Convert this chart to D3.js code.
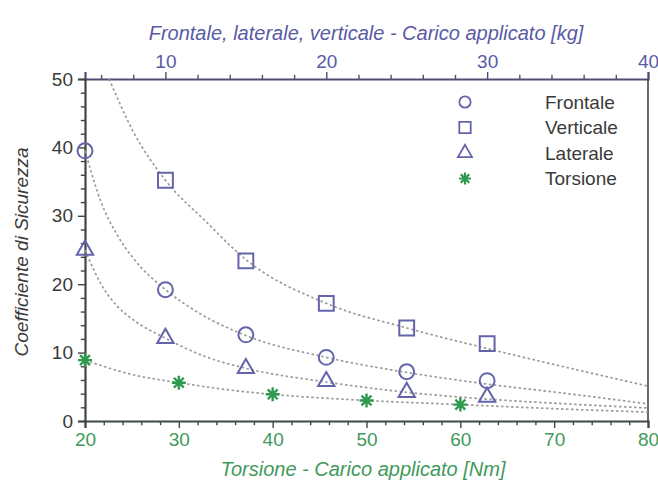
<!DOCTYPE html>
<html>
<head>
<meta charset="utf-8">
<script src="https://cdn.jsdelivr.net/npm/d3@7"></script>
<style>
  body { margin: 0; background: #fff; }
  text { font-family: "Liberation Sans", Arial, sans-serif; }
</style>
</head>
<body>
<div id="chart"></div>
<script>
// data
const kgLoads = [5, 10, 15, 20, 25, 30];
const frontale = [39.5, 19.2, 12.6, 9.3, 7.2, 5.9];
const laterale = [25.0, 12.1, 7.7, 5.8, 4.2, 3.5];
const verticaleLoads = [10, 15, 20, 25, 30];
const verticale = [35.2, 23.4, 17.2, 13.6, 11.3];
const nmLoads = [20, 30, 40, 50, 60];
const torsione = [8.9, 5.6, 3.9, 3.0, 2.4];

// dotted trend lines, also
const frontaleFitX = [5, 6, 7, 8, 10, 12, 15, 20, 25, 30, 35, 40];
const frontaleFitY = [39.5, 32, 27.2, 23.8, 19.2, 15.9, 12.5, 9.3, 7.1, 5.4, 4.0, 2.5];
const verticaleFitX = [6.5, 8, 10, 12.5, 15, 20, 25, 30, 35, 40];
const verticaleFitY = [50, 42.3, 35.2, 29.2, 23.6, 17.2, 13.6, 10.6, 7.8, 5.1];
const lateraleFitX = [5, 6, 7, 8, 10, 12.5, 15, 20, 25, 30, 35, 40];
const lateraleFitY = [25, 20, 16.8, 14.8, 12.1, 9.4, 7.7, 5.7, 4.2, 3.2, 2.5, 1.9];
const torsioneFitX = [20, 25, 30, 35, 40, 50, 60, 70, 80];
const torsioneFitY = [8.9, 6.8, 5.6, 4.6, 3.9, 3.0, 2.4, 1.8, 1.3];

const legendLabels = ["Frontale", "Verticale", "Laterale", "Torsione"];
const yTicks = [0, 10, 20, 30, 40, 50];
const nmTicks = [20, 30, 40, 50, 60, 70, 80];
const kgTicks = [10, 20, 30, 40];

const margin = { top: 79, right: 10, bottom: 78, left: 85 };
const width = 658 - margin.left - margin.right;
const height = 499 - margin.top - margin.bottom;

const blue = "#6464aa";
const green = "#2f9a4f";

const svg = d3.select("#chart")
    .append("svg")
    .attr("width", 658)
    .attr("height", 499);

const g = svg.append("g")
    .attr("transform", `translate(${margin.left},${margin.top})`);

const xNm = d3.scaleLinear().domain([20, 80]).range([0, width]);
const xKg = d3.scaleLinear().domain([5, 40]).range([0, width]);
const y = d3.scaleLinear().domain([0, 50]).range([height, 0]);

g.append("clipPath").attr("id", "plot")
    .append("rect").attr("width", width).attr("height", height);

// axes with minor ticks
function styleAxis(sel, majors, color, lineColor) {
    sel.select(".domain").attr("stroke", lineColor).attr("stroke-width", 2.2);
    sel.selectAll(".tick line").attr("stroke", lineColor).attr("stroke-width", 1.4);
    sel.selectAll(".tick").filter(d => !majors.includes(d)).select("line")
        .each(function () {
            const l = d3.select(this);
            ["x2", "y2"].forEach(a => { if (l.attr(a)) l.attr(a, +l.attr(a) * 0.6); });
        });
    sel.selectAll(".tick text").attr("fill", color).style("font-size", "19px");
}

const bottomAxis = d3.axisBottom(xNm)
    .tickValues(d3.range(20, 81, 2))
    .tickSize(7).tickPadding(5)
    .tickFormat(d => nmTicks.includes(d) ? d : "");
g.append("g")
    .attr("transform", `translate(0,${height})`)
    .call(bottomAxis)
    .call(s => styleAxis(s, nmTicks, "#3f9a5c", "#3d4a40"));

const topAxis = d3.axisTop(xKg)
    .tickValues(d3.range(6, 41, 2))
    .tickSize(7).tickPadding(4)
    .tickFormat(d => kgTicks.includes(d) ? d : "");
g.append("g")
    .call(topAxis)
    .call(s => styleAxis(s, kgTicks, "#5a5aa6", "#4e4e72"));

const leftAxis = d3.axisLeft(y)
    .tickValues(d3.range(0, 51, 2))
    .tickSize(7).tickPadding(5)
    .tickFormat(d => yTicks.includes(d) ? d : "");
g.append("g")
    .call(leftAxis)
    .call(s => styleAxis(s, yTicks, "#3a3a3a", "#444"));

g.append("line")
    .attr("x1", width).attr("x2", width)
    .attr("y1", 0).attr("y2", height)
    .attr("stroke", "#444").attr("stroke-width", 1.6);

// axis titles
svg.append("text")
    .attr("x", 366).attr("y", 40)
    .attr("text-anchor", "middle")
    .style("font-size", "20px").style("font-style", "italic")
    .attr("fill", "#5a5aa6")
    .text("Frontale, laterale, verticale - Carico applicato [kg]");

svg.append("text")
    .attr("x", 363).attr("y", 476)
    .attr("text-anchor", "middle")
    .style("font-size", "20px").style("font-style", "italic")
    .attr("fill", "#3f9a5c")
    .text("Torsione - Carico applicato [Nm]");

svg.append("text")
    .attr("transform", "translate(28,252) rotate(-90)")
    .attr("text-anchor", "middle")
    .style("font-size", "19px").style("font-style", "italic")
    .attr("fill", "#3a3a3a")
    .text("Coefficiente di Sicurezza");

// trend lines
const fits = [
    { xs: frontaleFitX, ys: frontaleFitY, sx: xKg },
    { xs: verticaleFitX, ys: verticaleFitY, sx: xKg },
    { xs: lateraleFitX, ys: lateraleFitY, sx: xKg },
    { xs: torsioneFitX, ys: torsioneFitY, sx: xNm }
];

fits.forEach(f => {
    const line = d3.line()
        .x(d => f.sx(d[0]))
        .y(d => y(d[1]))
        .curve(d3.curveMonotoneX);
    g.append("path")
        .datum(d3.zip(f.xs, f.ys))
        .attr("clip-path", "url(#plot)")
        .attr("d", line)
        .attr("fill", "none")
        .attr("stroke", "#9a9a9a")
        .attr("stroke-width", 1.7)
        .attr("stroke-dasharray", "2.5,2.5");
});

// markers
function star(r) {
    const p = d3.path();
    for (let i = 0; i < 4; i++) {
        const a = i * Math.PI / 4;
        p.moveTo(-r * Math.cos(a), -r * Math.sin(a));
        p.lineTo(r * Math.cos(a), r * Math.sin(a));
    }
    return p.toString();
}

const shapes = {
    circle: d3.symbol(d3.symbolCircle, 175)(),
    square: d3.symbol(d3.symbolSquare, 220)(),
    triangle: d3.symbol(d3.symbolTriangle, 115)(),
    star: star(7)
};

function drawMarkers(xs, ys, sx, shape, color) {
    g.append("g").selectAll("path")
        .data(d3.zip(xs, ys))
        .join("path")
        .attr("transform", d => `translate(${sx(d[0])},${y(d[1])})`)
        .attr("d", shapes[shape])
        .attr("fill", "none")
        .attr("stroke", color)
        .attr("stroke-width", shape === "star" ? 2.4 : 2);
}

drawMarkers(kgLoads, frontale, xKg, "circle", blue);
drawMarkers(verticaleLoads, verticale, xKg, "square", blue);
drawMarkers(kgLoads, laterale, xKg, "triangle", blue);
drawMarkers(nmLoads, torsione, xNm, "star", green);

// legend
const legendSymbols = [d3.symbolCircle, d3.symbolSquare, d3.symbolTriangle];
const legendSizes = [100, 130, 85];
const legend = svg.append("g").attr("transform", "translate(465,102)");
legendLabels.forEach((name, i) => {
    const row = legend.append("g").attr("transform", `translate(0,${i * 25.5})`);
    const isStar = i === 3;
    row.append("path")
        .attr("d", isStar ? star(6) : d3.symbol(legendSymbols[i], legendSizes[i])())
        .attr("fill", "none")
        .attr("stroke", isStar ? green : blue)
        .attr("stroke-width", isStar ? 2.2 : 1.8);
    row.append("text")
        .attr("x", 80).attr("dy", "0.36em")
        .style("font-size", "19px")
        .attr("fill", "#3a3a3a")
        .text(name);
});
</script>
</body>
</html>
